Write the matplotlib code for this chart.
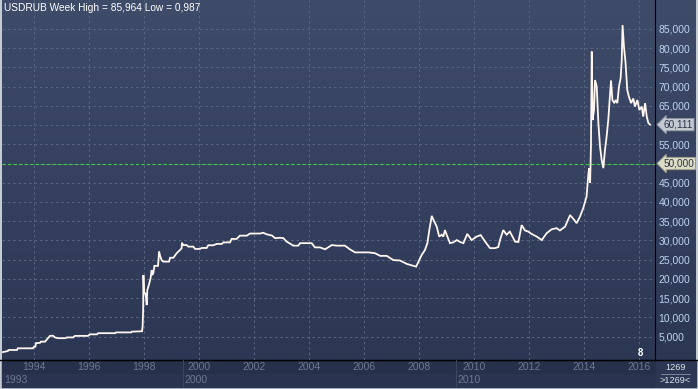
import numpy as np
import matplotlib
matplotlib.use("Agg")
import matplotlib.pyplot as plt
import matplotlib.transforms as mtransforms
from matplotlib.colors import LinearSegmentedColormap

# Dados (ano fracionário, cotação USDRUB semanal)
anos = [
    1992.86, 1993.04, 1993.06, 1993.37, 1993.40, 1993.95, 1993.99, 1994.04, 1994.06, 1994.21,
    1994.24, 1994.39, 1994.57, 1994.68, 1994.75, 1994.86, 1995.12, 1995.19, 1995.41, 1995.48,
    1995.95, 1996.03, 1996.28, 1996.32, 1996.94, 1996.97, 1997.52, 1997.55, 1997.92, 1997.94,
    1997.96, 1997.97, 1997.99, 1998.05, 1998.09, 1998.11, 1998.17, 1998.23, 1998.27, 1998.29,
    1998.33, 1998.37, 1998.50, 1998.54, 1998.57, 1998.63, 1998.69, 1998.90, 1998.94, 1999.06,
    1999.18, 1999.30, 1999.36, 1999.37, 1999.42, 1999.54, 1999.60, 1999.78, 1999.85, 2000.03,
    2000.09, 2000.27, 2000.33, 2000.51, 2000.64, 2000.82, 2000.88, 2001.12, 2001.18, 2001.36,
    2001.48, 2001.73, 2001.85, 2002.21, 2002.33, 2002.45, 2002.64, 2002.76, 2002.94, 2003.06,
    2003.18, 2003.30, 2003.42, 2003.60, 2003.67, 2004.09, 2004.21, 2004.39, 2004.58, 2004.82,
    2005.00, 2005.30, 2005.48, 2005.67, 2006.15, 2006.39, 2006.58, 2006.82, 2007.06, 2007.30,
    2007.55, 2007.79, 2007.89, 2008.09, 2008.21, 2008.30, 2008.37, 2008.46, 2008.51, 2008.64,
    2008.73, 2008.82, 2008.88, 2008.94, 2009.00, 2009.12, 2009.24, 2009.37, 2009.49, 2009.61,
    2009.75, 2009.91, 2010.09, 2010.24, 2010.40, 2010.58, 2010.76, 2010.88, 2010.94, 2011.06,
    2011.18, 2011.30, 2011.49, 2011.61, 2011.73, 2011.85, 2011.97, 2012.09, 2012.28, 2012.46,
    2012.64, 2012.82, 2013.00, 2013.12, 2013.31, 2013.49, 2013.61, 2013.73, 2013.85, 2013.97,
    2014.09, 2014.15, 2014.18, 2014.22, 2014.25, 2014.28, 2014.31, 2014.36, 2014.40, 2014.46,
    2014.52, 2014.58, 2014.64, 2014.70, 2014.76, 2014.82, 2014.88, 2014.94, 2014.98, 2015.03,
    2015.10, 2015.15, 2015.21, 2015.27, 2015.33, 2015.37, 2015.40, 2015.45, 2015.51, 2015.57,
    2015.63, 2015.71, 2015.79, 2015.85, 2015.94, 2016.01, 2016.10, 2016.15, 2016.22, 2016.28,
    2016.34, 2016.40,
]
cotacao = [
    0.987, 1.27, 1.53, 1.53, 1.97, 1.97, 2.4, 2.4, 3.3, 3.4,
    3.7, 3.7, 5.2, 5.25, 4.8, 4.6, 4.6, 4.8, 4.8, 5.2,
    5.2, 5.6, 5.6, 5.9, 5.9, 6.1, 6.1, 6.3, 6.4, 7.6,
    12.0, 21.0, 16.7, 16.0, 13.2, 17.1, 18.5, 20.2, 22.3, 21.0,
    21.5, 23.4, 23.4, 27.1, 26.2, 24.9, 24.5, 24.5, 25.5, 25.5,
    26.7, 27.5, 28.0, 29.4, 28.8, 28.8, 28.4, 28.4, 27.8, 27.8,
    28.05, 28.05, 28.75, 28.75, 29.1, 29.1, 29.5, 29.5, 30.4, 30.4,
    31.25, 31.25, 31.8, 31.8, 32.0, 31.6, 31.3, 30.6, 30.7, 30.6,
    29.7, 29.2, 28.65, 28.65, 29.3, 29.3, 28.2, 28.2, 27.7, 28.8,
    28.65, 28.65, 27.7, 26.9, 26.9, 26.7, 26.0, 26.0, 24.9, 24.8,
    23.9, 23.4, 23.2, 26.2, 27.5, 29.3, 32.7, 36.4, 35.5, 33.6,
    31.0, 31.5, 31.0, 32.7, 31.5, 29.3, 29.5, 30.1, 29.6, 29.3,
    31.7, 30.1, 31.0, 31.4, 29.7, 28.0, 28.0, 28.3, 30.1, 32.7,
    31.5, 32.3, 29.7, 29.6, 34.0, 32.6, 32.3, 31.7, 31.0, 30.1,
    31.9, 32.9, 33.2, 32.6, 33.6, 36.6, 35.6, 34.5, 36.2, 38.4,
    41.4, 46.6, 48.8, 45.0, 54.4, 79.1, 61.3, 63.9, 71.7, 70.0,
    60.5, 54.4, 50.9, 48.8, 53.5, 57.0, 61.3, 67.4, 71.6, 66.5,
    65.7, 66.5, 65.7, 70.0, 72.2, 76.9, 85.964, 80.4, 76.1, 69.1,
    67.4, 65.7, 66.9, 64.8, 66.5, 63.9, 64.8, 62.2, 65.7, 62.2,
    60.5, 60.111,
]

anos_grade = list(range(1994, 2017, 2))
niveis_y = list(range(5, 90, 5))
nivel_ref = 50.0
decadas = [(1992.86, "1993"), (1999.41, "2000"), (2009.34, "2010")]
titulo = "USDRUB Week High = 85,964 Low = 0,987"

W, H = 698, 389


def caixa(l, t, r, b):
    # retângulo em pixels -> fração da figura
    return [l / W, 1 - b / H, (r - l) / W, (b - t) / H]


def fmt(v):
    return f"{v:.3f}".replace(".", ",")


plt.rcParams["font.family"] = ["Liberation Sans", "DejaVu Sans"]

fig = plt.figure(figsize=(W / 100, H / 100), dpi=100, facecolor="#c5cad3")

# Fundo em gradiente (painel principal + escala da direita)
fundo = fig.add_axes([0, 0, 1, 1])
fundo.set_xlim(0, W)
fundo.set_ylim(H, 0)
fundo.axis("off")
grad = LinearSegmentedColormap.from_list("fundo", ["#3e4b69", "#2c3754"])
fundo.imshow(np.linspace(0, 1, 256)[:, None], cmap=grad, aspect="auto",
             extent=(2, 696, 360, 0), zorder=0)
fundo.add_patch(plt.Rectangle((2, 360), 653, 14, color="#26304a", zorder=1))
fundo.add_patch(plt.Rectangle((2, 374), 653, 13, color="#2a3450", zorder=1))
fundo.add_patch(plt.Rectangle((656, 360), 40, 27, color="#2c3753", zorder=1))
fundo.plot([0, W], [360, 360], color="black", lw=1, zorder=2)
fundo.plot([661, 690], [374, 374], color="#8a93a6", lw=0.6, zorder=2)
fundo.text(675.5, 367.5, "1269", color="#dde3ee", fontsize=6.6, ha="center", va="center", zorder=3)
fundo.text(675.5, 380.5, ">1269<", color="#dde3ee", fontsize=6.6, ha="center", va="center", zorder=3)

# Gráfico principal
ax = fig.add_axes(caixa(2, 0, 655, 360))
ax.patch.set_alpha(0)
ax.set_xlim(1992.825, 2016.58)
ax.set_ylim(-1.07, 92.5)

ax.plot(anos, cotacao, color="#fff6f0", lw=1.3, solid_joinstyle="miter", zorder=3)
ax.axhline(nivel_ref, color="#3ccf3c", lw=0.8, ls=(0, (3, 2)), zorder=2)

# os níveis cobertos pelas etiquetas ficam sem rótulo
ocultos = {nivel_ref, round(cotacao[-1] / 5) * 5}
ax.set_xticks(anos_grade)
ax.set_yticks(niveis_y)
ax.set_yticklabels(["" if v in ocultos else fmt(v) for v in niveis_y])
ax.grid(True, color="#5a6682", lw=0.7, ls=(0, (2.5, 3)))
ax.yaxis.tick_right()
ax.tick_params(axis="y", length=0, pad=2.5, labelsize=7.5, labelcolor="#bcd3f0")
ax.tick_params(axis="x", length=0, labelbottom=False)
for lado in ["top", "left"]:
    ax.spines[lado].set_visible(False)
ax.spines["right"].set_color("black")
ax.spines["bottom"].set_color("black")

ax.text(0.003, 0.992, titulo, transform=ax.transAxes, color="white",
        fontsize=7.3, ha="left", va="top")
ax.text(0.974, 0.005, "8", transform=ax.transAxes, color="white",
        fontsize=7, fontweight="bold", ha="left", va="bottom")

# Etiquetas de valor na escala
trans = mtransforms.blended_transform_factory(ax.transAxes, ax.transData)
ax.text(1.013, cotacao[-1], fmt(cotacao[-1]), transform=trans, color="#2a3244",
        fontsize=7.2, ha="left", va="center", clip_on=False, zorder=5,
        bbox=dict(boxstyle="larrow,pad=0.12", fc="#c3c8d1", ec="#8c93a0", lw=0.6))
ax.text(1.013, nivel_ref, fmt(nivel_ref), transform=trans, color="#2a3244",
        fontsize=7.2, ha="left", va="center", clip_on=False, zorder=5,
        bbox=dict(boxstyle="larrow,pad=0.12", fc="#dcdcc6", ec="#9a9a86", lw=0.6))

# Faixa inferior com os anos
faixa = fig.add_axes(caixa(2, 360, 655, 387), sharex=ax)
faixa.patch.set_alpha(0)
faixa.set_ylim(0, 1)
faixa.axis("off")
for ano in anos_grade:
    faixa.text(ano, 0.74, str(ano), color="#6c7790", fontsize=7.5,
               ha="center", va="center")
for pos, rotulo in decadas:
    if pos > ax.get_xlim()[0] + 0.5:
        faixa.axvline(pos, color="#3a4560", lw=0.8)
    faixa.text(pos + 0.05, 0.25, rotulo, color="#6c7790", fontsize=7.5,
               ha="left", va="center")

fig.savefig("out.png", dpi=100, facecolor=fig.get_facecolor())
plt.close(fig)
